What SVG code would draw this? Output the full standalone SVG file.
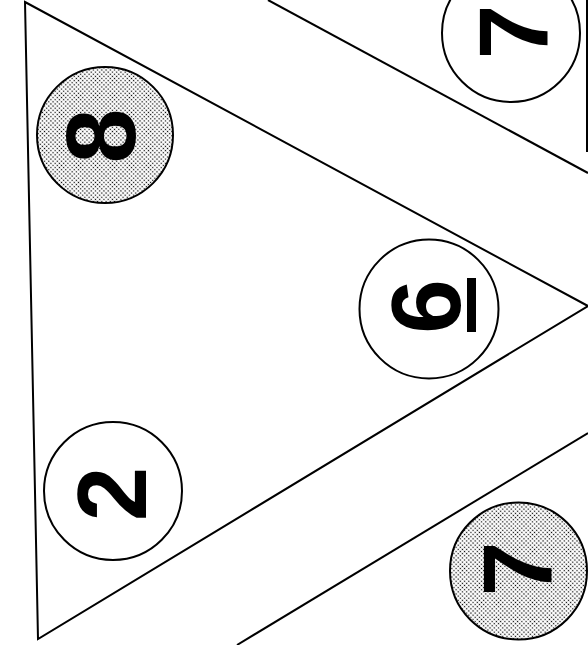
<svg xmlns="http://www.w3.org/2000/svg" width="588" height="645" viewBox="0 0 588 645">
  <defs>
    <pattern id="dots" patternUnits="userSpaceOnUse" width="3" height="3" patternTransform="rotate(45)">
      <rect width="3" height="3" fill="#ffffff"/>
      <circle cx="1.5" cy="1.5" r="0.75" fill="#000000"/>
    </pattern>
  </defs>
  <style>
    .edge { fill: none; stroke: #000; stroke-width: 2; stroke-linejoin: miter; }
    .ball { stroke: #000; stroke-width: 2; }
    .plain { fill: #fff; }
    .shaded { fill: url(#dots); }
    .num { font-family: "Liberation Sans", Arial, sans-serif; font-weight: bold; font-size: 98px; fill: #000; text-anchor: middle; }
  </style>
  <rect width="588" height="645" fill="#fff"/>
  <g id="connectors">
    <polygon class="edge" points="25,2 588,306 38,639"/>
    <line class="edge" x1="268" y1="0" x2="588" y2="173"/>
    <line class="edge" x1="237" y1="645" x2="588" y2="433"/>
    <line class="edge" x1="587" y1="0" x2="587" y2="152"/>
  </g>
  <g id="node-8">
    <circle class="ball shaded" cx="105" cy="135" r="68"/>
    <text class="num" transform="translate(99.5,136) rotate(-90)" x="0" y="35">8</text>
  </g>
  <g id="node-7-top">
    <circle class="ball plain" cx="511" cy="33" r="69"/>
    <text class="num" transform="translate(513,32) rotate(-90)" x="0" y="35">7</text>
  </g>
  <g id="node-6">
    <circle class="ball plain" cx="429" cy="309" r="69.5"/>
    <text class="num" transform="translate(425,306.5) rotate(-90)" x="0" y="35">6</text>
    <rect x="467" y="278" width="9" height="54" fill="#000"/>
  </g>
  <g id="node-2">
    <circle class="ball plain" cx="113" cy="491" r="69"/>
    <text class="num" transform="translate(110.5,494) rotate(-90)" x="0" y="35">2</text>
  </g>
  <g id="node-7-bottom">
    <circle class="ball shaded" cx="518.5" cy="571" r="68.5"/>
    <text class="num" transform="translate(517,569) rotate(-90)" x="0" y="35">7</text>
  </g>
</svg>
